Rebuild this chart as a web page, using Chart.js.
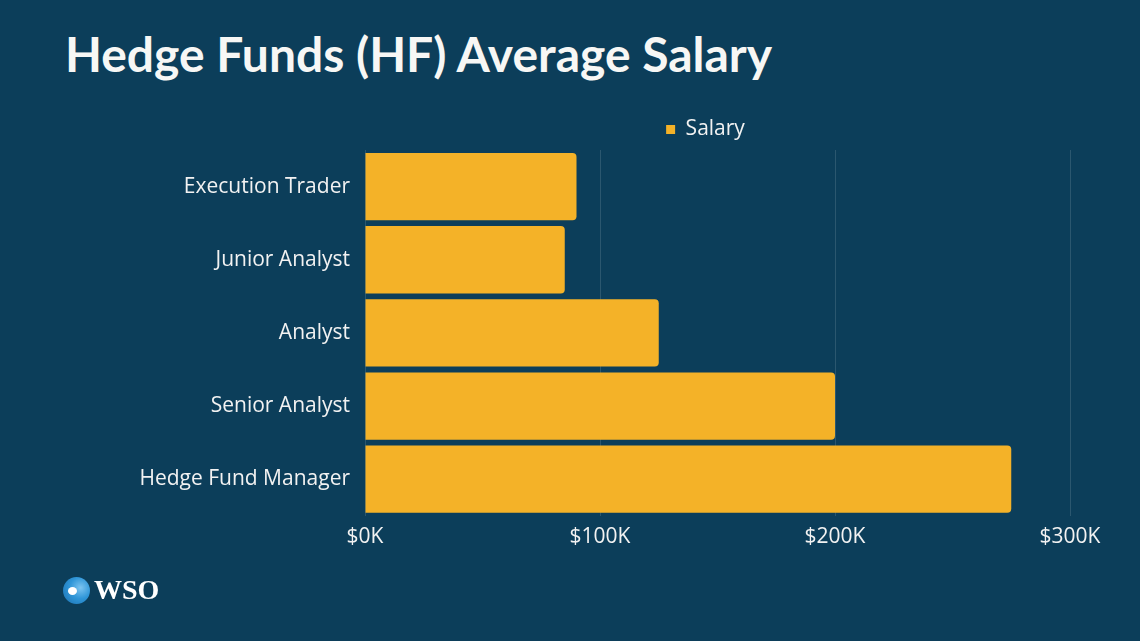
<!doctype html>
<html lang="en">
  <head>
    <meta charset="UTF-8" />
    <title>Hedge Funds (HF) Average Salary</title>
    <script src="https://cdn.jsdelivr.net/npm/chart.js"></script>
    <style>
      html, body {
        margin: 0;
        padding: 0;
        width: 1140px;
        height: 641px;
        background: #0c3e5a;
        overflow: hidden;
      }
      h1 {
        position: absolute;
        left: 65px;
        top: 25px;
        margin: 0;
        font-family: Lato, sans-serif;
        font-weight: bold;
        font-size: 48px;
        color: #f7f7f5;
      }
      #wrap {
        position: absolute;
        left: 0;
        top: 100px;
        width: 1140px;
        height: 480px;
      }
      .logo {
        position: absolute;
        left: 63px;
        top: 576px;
        display: flex;
        align-items: center;
      }
      .logo .mark {
        width: 27px;
        height: 27px;
        border-radius: 50%;
        background: radial-gradient(circle at 65% 40%, #7cc4f0 0%, #2f96d8 45%, #1b6fae 100%);
        position: relative;
      }
      .logo .mark::after {
        content: '';
        position: absolute;
        left: 5px;
        top: 10px;
        width: 9px;
        height: 8px;
        border-radius: 50%;
        background: #fff;
      }
      .logo .txt {
        font-family: 'Liberation Serif', serif;
        font-weight: bold;
        font-size: 28px;
        color: #fff;
        margin-left: 4px;
        line-height: 28px;
      }
    </style>
  </head>
  <body>
    <h1>Hedge Funds (HF) Average Salary</h1>
    <div id="wrap"><canvas id="salaryChart" width="1140" height="480"></canvas></div>
    <div class="logo"><div class="mark"></div><div class="txt">WSO</div></div>

    <script>
      // données (en milliers de dollars)
      const roles = ['Execution Trader', 'Junior Analyst', 'Analyst', 'Senior Analyst', 'Hedge Fund Manager'];
      const salaries = [90, 85, 125, 200, 275];
      const tickValues = [0, 100, 200, 300];

      const textColor = '#f2f2f2';
      const barColor = '#f4b228';

      // décale un peu la légende vers la gauche comme sur l'original
      const legendShift = {
        id: 'legendShift',
        afterLayout(chart) {
          const lg = chart.legend;
          if (lg) {
            lg.left -= 12;
            lg.right -= 12;
          }
        },
      };

      const ctx = document.getElementById('salaryChart').getContext('2d');
      new Chart(ctx, {
        type: 'bar',
        data: {
          labels: roles,
          datasets: [
            {
              label: 'Salary',
              data: salaries,
              backgroundColor: barColor,
              borderRadius: 4,
              borderSkipped: 'start',
              barPercentage: 0.92,
              categoryPercentage: 1,
            },
          ],
        },
        plugins: [legendShift],
        options: {
          indexAxis: 'y',
          responsive: false,
          animation: false,
          layout: {
            padding: { top: 4, left: 100, right: 70, bottom: 21 },
          },
          plugins: {
            legend: {
              position: 'top',
              fullSize: false,
              labels: {
                color: textColor,
                boxWidth: 9,
                boxHeight: 9,
                padding: 15,
                font: { family: 'Open Sans', size: 21 },
              },
            },
            tooltip: { enabled: false },
          },
          scales: {
            x: {
              min: 0,
              max: 300,
              afterBuildTicks: (scale) => {
                scale.ticks = tickValues.map((v) => ({ value: v }));
              },
              grid: {
                color: 'rgba(255,255,255,0.13)',
                drawTicks: false,
              },
              border: { display: false },
              ticks: {
                color: textColor,
                padding: 9,
                font: { family: 'Open Sans', size: 21 },
                callback: (v) => '$' + v + 'K',
              },
            },
            y: {
              afterFit: (scale) => {
                scale.width = 265;
              },
              grid: { display: false, drawTicks: false },
              border: { display: false },
              ticks: {
                color: textColor,
                padding: 15,
                font: { family: 'Open Sans', size: 21 },
              },
            },
          },
        },
      });
    </script>
  </body>
</html>
